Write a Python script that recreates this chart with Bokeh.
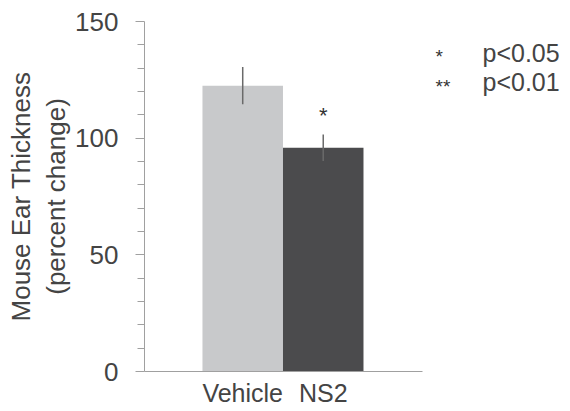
from bokeh.plotting import figure
from bokeh.layouts import row
from bokeh.models import Range1d, FixedTicker, Label, ColumnDataSource, LinearAxis
from bokeh.core.properties import value
from bokeh.embed import file_html
from bokeh.resources import INLINE

# data
groups = ["Vehicle", "NS2"]
means = [122.5, 95.9]
errors = [8.0, 5.7]
bar_colors = ["#c8c9cb", "#4b4b4d"]
sig_marks = ["", "*"]
y_ticks = [0, 50, 100, 150]
y_minor = [10, 20, 30, 40, 60, 70, 80, 90, 110, 120, 130, 140]
legend_marks = ["*", "**"]
legend_texts = ["p<0.05", "p<0.01"]
y_label_lines = ["Mouse Ear Thickness", "(percent change)"]

FONT = "Liberation Sans"
TXT = "#444444"
AX = "#a0a0a0"
xs = [1, 2]

p = figure(width=430, height=410, output_backend="svg", toolbar_location=None,
           x_range=Range1d(-0.22, 3.233), y_range=Range1d(0, 150),
           min_border_left=144, min_border_right=8, min_border_top=21,
           min_border_bottom=39)
p.outline_line_color = None
p.xgrid.visible = False
p.ygrid.visible = False

src = ColumnDataSource(dict(x=xs, top=means, color=bar_colors,
                            lo=[m - e for m, e in zip(means, errors)],
                            hi=[m + e for m, e in zip(means, errors)]))
p.vbar(x="x", top="top", bottom=0, width=1.0, fill_color="color",
       line_color=None, source=src)
p.segment(x0="x", x1="x", y0="lo", y1="hi", line_color="#6a6a6a",
          line_width=1.5, source=src)

# significance star
for x, m, e, s in zip(xs, means, errors, sig_marks):
    if s:
        p.add_layout(Label(x=x, y=m + e + 8, text=s, text_align="center",
                           text_baseline="middle", text_font=FONT,
                           text_font_size="22px", text_color="#333333"))

# y axis
ya = p.yaxis[0]
ya.ticker = FixedTicker(ticks=y_ticks, minor_ticks=y_minor)
ya.axis_line_color = AX
ya.major_tick_line_color = AX
ya.minor_tick_line_color = AX
ya.major_tick_out = 9
ya.major_tick_in = 0
ya.minor_tick_out = 7
ya.minor_tick_in = 0
ya.major_label_standoff = 17
ya.major_label_text_font = FONT
ya.major_label_text_font_size = "26px"
ya.major_label_text_color = TXT
ya.axis_label = y_label_lines[1]
ya.axis_label_standoff = 1
ya.axis_label_text_font = FONT
ya.axis_label_text_font_size = "26px"
ya.axis_label_text_font_style = "normal"
ya.axis_label_text_color = TXT

# outer label line as a tick-less axis
ya2 = LinearAxis(ticker=FixedTicker(ticks=[]), axis_line_color=None,
                 major_tick_line_color=None, minor_tick_line_color=None,
                 major_tick_out=0, major_tick_in=0, major_label_standoff=0,
                 axis_label=y_label_lines[0], axis_label_standoff=3,
                 axis_label_text_font=FONT, axis_label_text_font_size="26px",
                 axis_label_text_font_style="normal",
                 axis_label_text_color=TXT)
p.add_layout(ya2, "left")

# x axis
xa = p.xaxis[0]
xa.ticker = FixedTicker(ticks=xs)
xa.major_label_overrides = {x: g for x, g in zip(xs, groups)}
xa.axis_line_color = AX
xa.major_tick_line_color = None
xa.minor_tick_line_color = None
xa.major_tick_out = 0
xa.major_label_standoff = 7
xa.major_label_text_font = FONT
xa.major_label_text_font_size = "25px"
xa.major_label_text_color = TXT

# significance legend in its own panel, same vertical frame as the chart
lg = figure(width=130, height=410, output_backend="svg", toolbar_location=None,
            title=None, x_range=Range1d(430, 560), y_range=Range1d(0, 150),
            x_axis_type=None, y_axis_type=None, min_border_left=0,
            min_border_right=0, min_border_top=21, min_border_bottom=39)
lg.outline_line_color = None
lg.xgrid.visible = False
lg.ygrid.visible = False
row_y = [136.7, 123.9]
lg.text(x=[435] * len(legend_marks), y=[y - 1.7 for y in row_y], text=legend_marks,
        text_align="left", text_baseline="alphabetic",
        text_font=value(FONT), text_font_size="19px", text_color="#333333")
lg.text(x=[482] * len(legend_texts), y=row_y, text=legend_texts,
        text_align="left", text_baseline="middle",
        text_font=value(FONT), text_font_size="25px", text_color=TXT)

layout = row(p, lg, spacing=0)
open("out.html", "w").write(file_html(layout, INLINE))
